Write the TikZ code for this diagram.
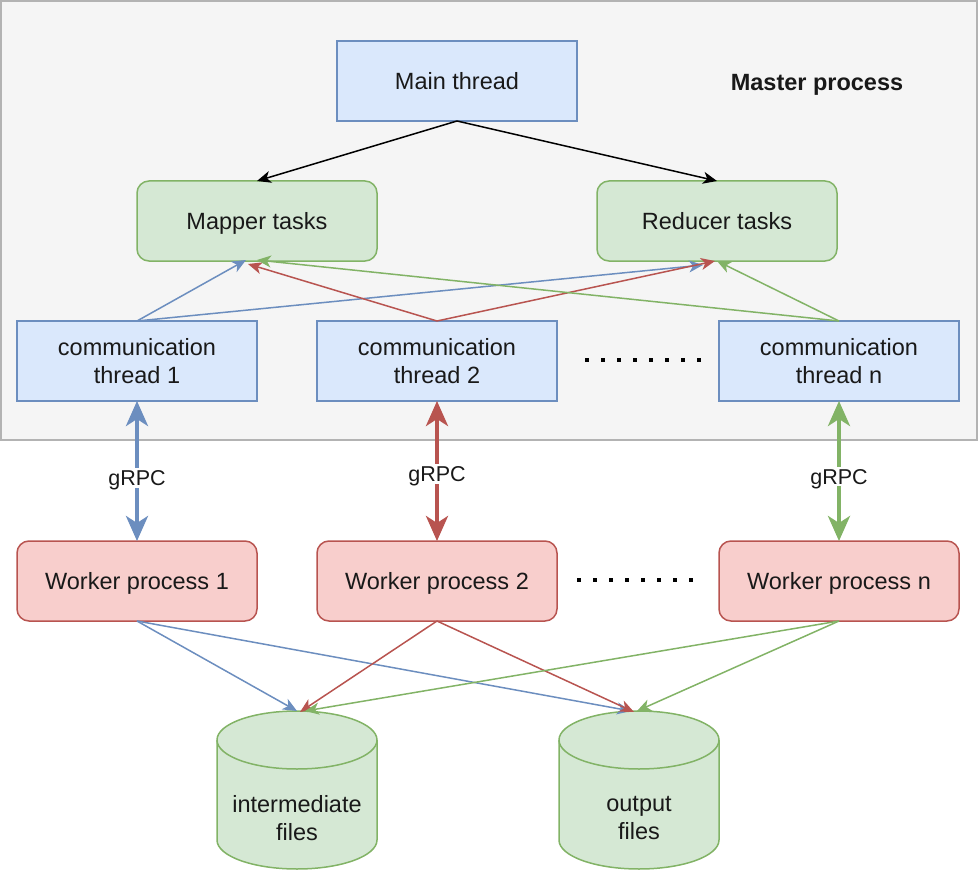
\documentclass[tikz,border=0pt]{standalone}
\usepackage{fontspec}
\setmainfont{Liberation Sans}
\usetikzlibrary{arrows.meta}
\definecolor{bluef}{HTML}{DAE8FC}
\definecolor{bluel}{HTML}{6C8EBF}
\definecolor{greenf}{HTML}{D5E8D4}
\definecolor{greenl}{HTML}{82B366}
\definecolor{redf}{HTML}{F8CECC}
\definecolor{redl}{HTML}{B85450}
\definecolor{bgf}{HTML}{F5F5F5}
\definecolor{bgl}{HTML}{B3B3B3}
\begin{document}
\begin{tikzpicture}[x=1pt,y=-1pt,
  txt/.style={font=\fontsize{23.5}{28}\selectfont, align=center, text=black!90},
  oneline/.style={text height=17pt, text depth=0pt},
  box/.style={txt, minimum width=240pt, minimum height=80pt, line width=1.5pt, inner sep=0pt, outer sep=0pt},
  bluebox/.style={box, draw=bluel, fill=bluef},
  greenbox/.style={box, draw=greenl, fill=greenf, rounded corners=12pt},
  redbox/.style={box, draw=redl, fill=redf, rounded corners=12pt},
  cyl/.style={draw=greenl, fill=greenf, line width=1.5pt},
  conn/.style={line width=1.5pt, -{Stealth[length=14pt,width=12pt,inset=4pt]}},
  grpc/.style={line width=4pt, {Stealth[length=25pt,width=22pt,inset=7pt]}-{Stealth[length=25pt,width=22pt,inset=7pt]}, shorten <=0pt, shorten >=0pt},
  glabel/.style={font=\fontsize{21.5}{24}\selectfont, text=black!90, fill=white, inner sep=2pt, text height=15.5pt, text depth=0pt},
  dotsq/.style={fill=black}
]
\useasboundingbox (0,0) rectangle (978,872);
% master process background
\path[draw=bgl, fill=bgf, line width=1.5pt] (1,1) rectangle (977,440);
\node[txt, oneline, font=\fontsize{23.5}{28}\selectfont\bfseries] (master) at (817,82) {Master process};

\node[bluebox, oneline] (main) at (457,81) {Main thread};
\node[greenbox, oneline] (mapper) at (257,221) {Mapper tasks};
\node[greenbox, oneline] (reducer) at (717,221) {Reducer tasks};
\node[bluebox] (c1) at (137,361) {communication\\thread 1};
\node[bluebox] (c2) at (437,361) {communication\\thread 2};
\node[bluebox] (cn) at (839,361) {communication\\thread n};

\node[redbox, oneline] (w1) at (137,581) {Worker process 1};
\node[redbox, oneline] (w2) at (437,581) {Worker process 2};
\node[redbox, oneline] (wn) at (839,581) {Worker process n};

% dots
\foreach \i in {0,...,7} {
  \fill[dotsq] (586.7+16*\i-2,360-2) rectangle (586.7+16*\i+2,360+2);
  \fill[dotsq] (579+16*\i-2,580-2) rectangle (579+16*\i+2,580+2);
}

% cylinders
\path[cyl] (217,740) -- (217,840) arc[start angle=180,end angle=0,x radius=80,y radius=29]
  -- (377,740) arc[start angle=0,end angle=-180,x radius=80,y radius=29] -- cycle;
\draw[cyl, fill=none] (217,740) arc[start angle=180,end angle=0,x radius=80,y radius=29];
\node[txt] (inter) at (297,818) {intermediate\\files};
\coordinate (intertop) at (297,711);

\path[cyl] (559,740) -- (559,840) arc[start angle=180,end angle=0,x radius=80,y radius=29]
  -- (719,740) arc[start angle=0,end angle=-180,x radius=80,y radius=29] -- cycle;
\draw[cyl, fill=none] (559,740) arc[start angle=180,end angle=0,x radius=80,y radius=29];
\node[txt] (out) at (639,818) {output\\files};
\coordinate (outtop) at (639,711);

% main thread arrows
\draw[conn, black] (main.south) -- (mapper.north);
\draw[conn, black] (main.south) -- (reducer.north);

% communication threads to tasks
\draw[conn, bluel] (c1.north) -- ([xshift=-11pt,yshift=1pt]mapper.south);
\draw[conn, bluel] (c1.north) -- ([xshift=-14pt,yshift=-4pt]reducer.south);
\draw[conn, redl] (c2.north) -- ([xshift=-9pt,yshift=-3pt]mapper.south);
\draw[conn, redl] (c2.north) -- ([xshift=-2pt]reducer.south);
\draw[conn, greenl] (cn.north) -- ([yshift=1pt]mapper.south);
\draw[conn, greenl] (cn.north) -- (reducer.south);

% gRPC
\draw[grpc, bluel] (c1.south) -- node[glabel, pos=0.55] {gRPC} (w1.north);
\draw[grpc, redl] (c2.south) -- node[glabel, pos=0.52] {gRPC} (w2.north);
\draw[grpc, greenl] (cn.south) -- node[glabel, pos=0.54] {gRPC} (wn.north);

% workers to files
\draw[conn, bluel] (w1.south) -- ([xshift=0pt]intertop);
\draw[conn, bluel] (w1.south) -- ([xshift=-8pt]outtop);
\draw[conn, redl] (w2.south) -- ([xshift=3pt,yshift=-1pt]intertop);
\draw[conn, redl] (w2.south) -- ([xshift=-5pt,yshift=-1pt]outtop);
\draw[conn, greenl] (wn.south) -- ([xshift=8pt]intertop);
\draw[conn, greenl] (wn.south) -- ([xshift=-2pt]outtop);
\end{tikzpicture}
\end{document}
